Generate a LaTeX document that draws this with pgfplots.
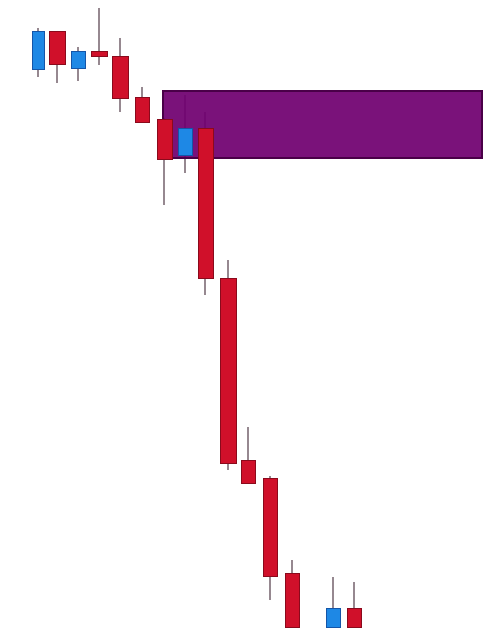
\documentclass[border=0pt]{standalone}
\usepackage{pgfplots}
\pgfplotsset{compat=1.18}
\definecolor{upfill}{HTML}{1E88E5}
\definecolor{updraw}{HTML}{1455A8}
\definecolor{dnfill}{HTML}{D0102A}
\definecolor{dndraw}{HTML}{8A0A1C}
\definecolor{wickc}{HTML}{968890}
\definecolor{zone}{HTML}{700070}
\definecolor{zonedraw}{HTML}{4A0048}
\begin{document}
\begin{tikzpicture}
\begin{axis}[
  width=497bp, height=635bp, scale only axis,
  xmin=0, xmax=497, ymin=0, ymax=635, y dir=reverse,
  hide axis, clip=false,
  wick/.style={draw=wickc, line width=1.8bp, no marks},
  up/.style={fill=upfill, draw=updraw, line width=1bp, no marks},
  dn/.style={fill=dnfill, draw=dndraw, line width=1bp, no marks},
]
% invisible frame so the picture spans the whole area
\addplot[draw=none, no marks] coordinates {(0,0) (497,635)};
% wicks (x,high)-(x,low)
\addplot[wick] coordinates {(38,28) (38,77)};
\addplot[wick] coordinates {(57,31) (57,83)};
\addplot[wick] coordinates {(78,47) (78,81)};
\addplot[wick] coordinates {(99,8) (99,65)};
\addplot[wick] coordinates {(120,38) (120,112)};
\addplot[wick] coordinates {(142,87) (142,122)};
\addplot[wick] coordinates {(164,118) (164,205)};
\addplot[wick] coordinates {(185,95) (185,173)};
\addplot[wick] coordinates {(205,112) (205,295)};
\addplot[wick] coordinates {(228,260) (228,470)};
\addplot[wick] coordinates {(248,427) (248,483)};
\addplot[wick] coordinates {(270,476) (270,600)};
\addplot[wick] coordinates {(292,560) (292,627)};
\addplot[wick] coordinates {(333,577) (333,627)};
\addplot[wick] coordinates {(354,582) (354,627)};
% zone rectangle
\addplot[fill=zone, fill opacity=0.93, draw=zonedraw, line width=1.2bp, no marks] coordinates {(163,91) (482,91) (482,158) (163,158)} -- cycle;
% bodies
\addplot[up] coordinates {(32,32) (44,32) (44,70) (32,70)} -- cycle;
\addplot[dn] coordinates {(49,32) (65,32) (65,65) (49,65)} -- cycle;
\addplot[up] coordinates {(71,52) (85,52) (85,69) (71,69)} -- cycle;
\addplot[dn] coordinates {(91,52) (107,52) (107,57) (91,57)} -- cycle;
\addplot[dn] coordinates {(112,57) (128,57) (128,99) (112,99)} -- cycle;
\addplot[dn] coordinates {(135,98) (149,98) (149,122) (135,122)} -- cycle;
\addplot[dn] coordinates {(157,120) (172,120) (172,159) (157,159)} -- cycle;
\addplot[up] coordinates {(178,128) (192,128) (192,155) (178,155)} -- cycle;
\addplot[dn] coordinates {(198,128) (213,128) (213,278) (198,278)} -- cycle;
\addplot[dn] coordinates {(220,278) (236,278) (236,463) (220,463)} -- cycle;
\addplot[dn] coordinates {(241,460) (255,460) (255,483) (241,483)} -- cycle;
\addplot[dn] coordinates {(263,478) (277,478) (277,576) (263,576)} -- cycle;
\addplot[dn] coordinates {(285,573) (299,573) (299,627) (285,627)} -- cycle;
\addplot[up] coordinates {(326,608) (340,608) (340,627) (326,627)} -- cycle;
\addplot[dn] coordinates {(347,608) (361,608) (361,627) (347,627)} -- cycle;
\end{axis}
\end{tikzpicture}
\end{document}
